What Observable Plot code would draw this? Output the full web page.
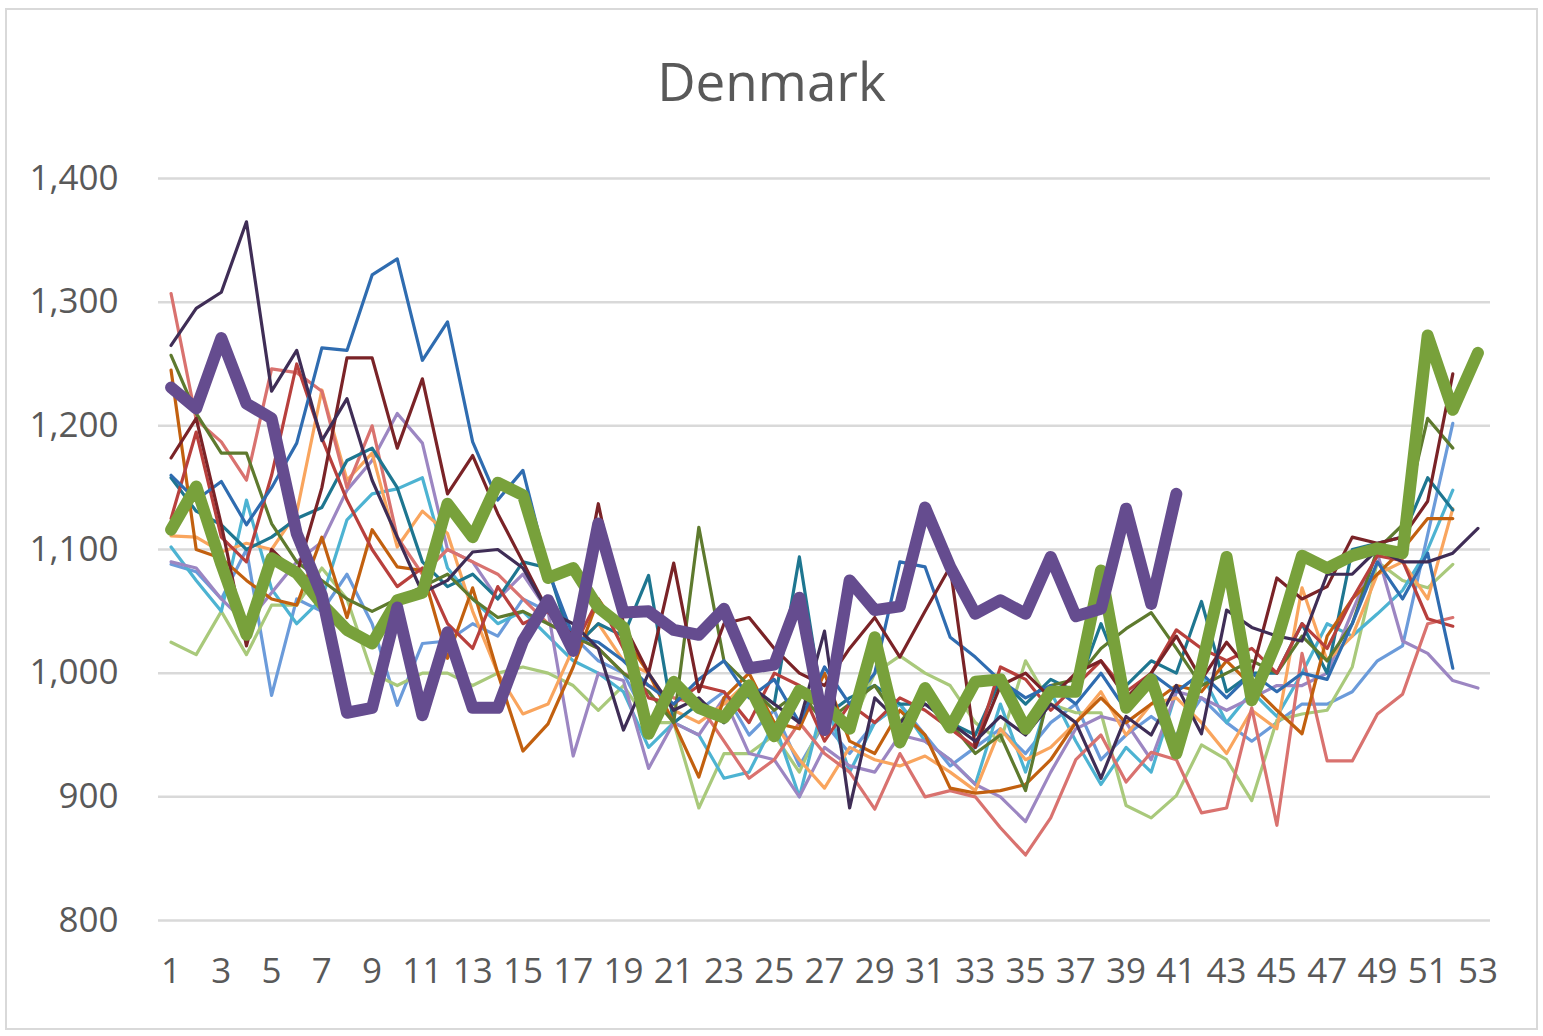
<!DOCTYPE html>
<html>
<head>
<meta charset="utf-8">
<script src="https://cdn.jsdelivr.net/npm/d3@7"></script>
<script src="https://cdn.jsdelivr.net/npm/@observablehq/plot@0.6"></script>
<style>
  html, body { margin: 0; padding: 0; background: #ffffff; }
  #frame { position: absolute; left: 5px; top: 8px; width: 1533px; height: 1022px; box-sizing: border-box; border: 2px solid #D9D9D9; }
  #title { position: absolute; left: 0; top: 54px; width: 1543px; text-align: center; font-family: "Open Sans", sans-serif; font-size: 53px; line-height: 53px; color: #595959; }
  #chart { position: absolute; left: 0; top: 130px; }
</style>
</head>
<body>
<div id="frame"></div>
<div id="title">Denmark</div>
<div id="chart"></div>
<script>
// ---- data ----
const weeks = d3.range(1, 54);
const xTicks = [1,3,5,7,9,11,13,15,17,19,21,23,25,27,29,31,33,35,37,39,41,43,45,47,49,51,53];
const yTicks = [800, 900, 1000, 1100, 1200, 1300, 1400];

const sDarkPurple = [1265,1295,1308,1365,1228,1261,1188,1222,1156,1110,
  1065,1075,1098,1100,1085,1050,1040,1020,954,1000,
  970,980,960,990,975,960,1034,891,980,960,
  975,960,945,965,950,975,960,915,965,950,
  990,951,1051,1037,1030,1026,1080,1080,1100,1090,
  1090,1097,1117];
const sSteelBlue = [1160,1140,1155,1120,1150,1186,1263,1261,1322,1335,
  1253,1284,1187,1140,1164,1083,1030,1025,1010,990,
  975,995,1010,980,995,960,1005,975,1000,1090,
  1086,1029,1013,994,980,990,975,1000,970,1000,
  985,1000,980,1000,985,1000,995,1040,1090,1060,
  1097,1004,null];
const sSalmon = [1307,1205,1187,1156,1246,1243,1228,1150,1200,1110,
  1080,1100,1090,1080,1060,1040,1030,1020,1000,990,
  980,975,945,915,930,960,935,920,890,935,
  900,905,900,875,853,883,930,950,912,936,
  930,887,891,972,877,1016,929,929,967,983,
  1040,1045,null];
const sMaroon = [1174,1206,1120,1022,1100,1080,1150,1255,1255,1182,
  1238,1145,1176,1129,1090,1050,1030,1137,1040,1000,
  1089,985,1040,1045,1020,1000,990,1020,1045,1013,
  1050,1086,940,990,1000,980,1000,1010,980,1000,
  1030,995,1025,1000,1077,1060,1070,1110,1105,1110,
  1139,1242,null];
const sRed = [1125,1195,1110,1090,1160,1250,1190,1140,1100,1070,
  1085,1040,1020,1070,1040,1050,1020,1060,1020,980,
  975,990,985,960,1000,990,945,975,960,980,
  970,955,940,1005,995,970,990,1010,985,1000,
  1035,1020,1010,1020,1000,1040,1020,1060,1095,1091,
  1044,1038,null];
const sOlive = [1257,1210,1178,1178,1121,1090,1075,1060,1050,1060,
  1070,1080,1060,1045,1050,1040,1030,1020,1000,985,
  960,1118,1010,990,970,985,960,975,990,960,
  985,960,935,950,905,990,995,1020,1036,1049,
  1020,990,1000,1010,1000,1030,1010,1040,1100,1120,
  1206,1182,null];
const sBrownOrange = [1245,1100,1093,1075,1060,1055,1110,1045,1116,1086,
  1083,1012,1069,1000,937,959,1005,1060,1030,1000,
  960,916,980,1000,960,955,1000,945,935,970,
  950,907,903,905,910,930,960,980,960,975,
  990,985,1010,990,970,951,1030,1060,1080,1100,
  1125,1125,null];
const sLightOrange = [1111,1110,1098,1105,1100,1130,1229,1156,1178,1102,
  1131,1113,1050,1000,967,975,1020,1040,1010,1000,
  970,960,975,994,960,930,907,940,930,925,
  933,920,905,955,930,940,960,985,950,975,
  980,960,935,970,955,1069,1010,1030,1080,1090,
  1060,1133,null];
const sLavender = [1090,1085,1060,1040,1065,1090,1106,1148,1172,1210,
  1186,1100,1090,1060,1080,1050,933,1000,994,923,
  960,950,980,935,930,900,940,925,920,950,
  945,930,910,900,880,920,955,965,960,930,
  985,980,970,980,990,990,1000,1050,1097,1026,
  1016,994,988];
const sTeal = [1158,1131,1120,1100,1110,1125,1134,1172,1182,1150,
  1090,1070,1080,1060,1090,1085,1020,1040,1030,1079,
  960,975,960,990,975,1094,965,980,990,975,
  975,960,950,995,975,995,985,1040,990,1010,
  1000,1058,985,1000,1000,1040,1000,1100,1105,1110,
  1158,1132,null];
const sAqua = [1102,1075,1050,1140,1068,1040,1060,1124,1145,1149,
  1158,1085,1060,1040,1050,1030,1010,1000,985,940,
  960,950,915,920,960,900,980,920,960,975,
  945,930,910,975,920,985,945,910,940,920,
  985,1000,960,985,965,1000,1040,1030,1048,1067,
  1100,1148,null];
const sCornflower = [1088,1082,1060,1100,982,1060,1050,1080,1040,974,
  1024,1026,1040,1030,1060,1050,1030,1010,1000,960,
  990,970,985,950,970,925,960,935,960,975,
  950,925,940,955,935,960,975,930,950,965,
  950,980,960,945,960,975,975,985,1010,1022,
  1112,1202,null];
const sLightGreen = [1025,1015,1050,1015,1055,1055,1085,1060,1000,990,
  1000,1000,990,1000,1005,1000,990,970,990,960,
  960,891,935,935,950,920,965,955,1000,1014,
  1000,990,960,945,1010,975,968,968,893,883,
  901,942,930,897,962,967,970,1005,1090,1075,
  1069,1088,null];
const sThickGreen = [1116,1151,1088,1031,1093,1081,1056,1035,1024,1059,
  1065,1137,1110,1154,1144,1077,1085,1053,1037,951,
  993,972,964,990,949,986,975,955,1029,944,
  988,956,993,995,955,985,985,1083,972,995,
  935,1005,1094,978,1026,1095,1085,1095,1101,1097,
  1273,1213,1259];
const sThickPurple = [1231,1214,1271,1218,1206,1113,1063,968,972,1053,
  966,1033,972,972,1026,1059,1018,1121,1049,1050,
  1035,1031,1052,1004,1007,1061,954,1075,1051,1054,
  1134,1086,1048,1059,1048,1094,1046,1052,1133,1056,
  1145,null,null,null,null,null,null,null,null,null,
  null,null,null];

// ---- styling (separate from data) ----
const seriesList = [
  {values: sCornflower,  color: "#6B9BDA", width: 3.2},
  {values: sLightGreen,  color: "#A9C97B", width: 3.2},
  {values: sAqua,        color: "#4DB3D2", width: 3.2},
  {values: sLavender,    color: "#9C86C2", width: 3.2},
  {values: sLightOrange, color: "#F9A55E", width: 3.2},
  {values: sSalmon,      color: "#D9726F", width: 3.2},
  {values: sTeal,        color: "#1E7690", width: 3.2},
  {values: sBrownOrange, color: "#C2600F", width: 3.2},
  {values: sOlive,       color: "#5E7A2E", width: 3.2},
  {values: sRed,         color: "#B8403D", width: 3.2},
  {values: sSteelBlue,   color: "#2F6CB0", width: 3.2},
  {values: sMaroon,      color: "#7A2327", width: 3.2},
  {values: sDarkPurple,  color: "#3F2D56", width: 3.2},
  {values: sThickGreen,  color: "#78A13B", width: 12},
  {values: sThickPurple, color: "#654C8F", width: 12}
];

const lineMarks = seriesList.map(s => {
  const rows = weeks.map((w, i) => ({week: w, value: s.values[i]}))
                    .filter(d => d.value != null);
  return Plot.line(rows, {x: "week", y: "value", stroke: s.color, strokeWidth: s.width,
                          strokeLinejoin: "round", strokeLinecap: "round"});
});

const chart = Plot.plot({
  width: 1543,
  height: 900,
  marginTop: 48,
  marginBottom: 110,
  marginLeft: 158,
  marginRight: 53,
  style: {fontFamily: "'Open Sans', sans-serif", fontSize: "35px", color: "#595959", background: "transparent", overflow: "visible"},
  x: {type: "linear", domain: [0.5, 53.5]},
  y: {domain: [800, 1400]},
  marks: [
    Plot.ruleY(yTicks, {stroke: "#D9D9D9", strokeWidth: 2.5}),
    Plot.axisX(xTicks, {tickSize: 0, tickPadding: 38, tickFormat: d => String(d), label: null, fill: "#595959"}),
    Plot.axisY(yTicks, {tickSize: 0, tickPadding: 40, tickFormat: d3.format(","), label: null, fill: "#595959"}),
    ...lineMarks
  ]
});
document.getElementById("chart").appendChild(chart);
</script>
</body>
</html>
